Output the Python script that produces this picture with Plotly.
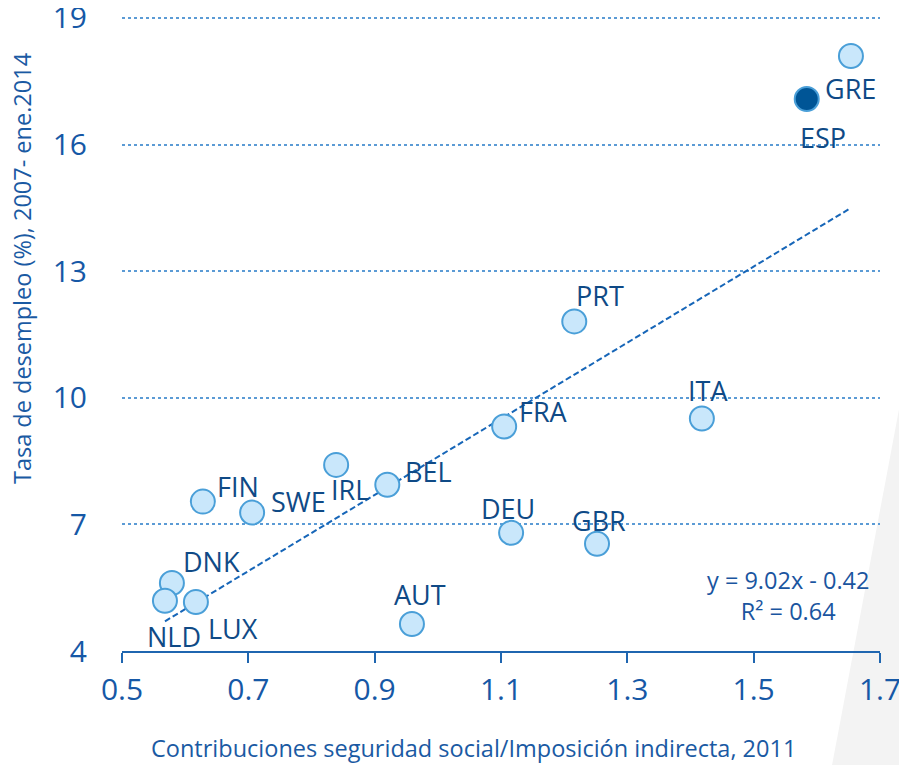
""" Desempleo vs contribuciones seguridad social / imposicion indirecta """

import plotly.graph_objects as go

# datos
paises = ["GRE", "ESP", "PRT", "ITA", "FRA", "BEL", "IRL", "FIN",
          "SWE", "DEU", "GBR", "DNK", "NLD", "LUX", "AUT"]
ratio_ss = [1.654, 1.584, 1.216, 1.418, 1.105, 0.920, 0.839, 0.628,
            0.706, 1.116, 1.252, 0.579, 0.568, 0.617, 0.959]
desempleo = [18.10, 17.08, 11.81, 9.51, 9.32, 7.94, 8.41, 7.54,
             7.28, 6.80, 6.54, 5.61, 5.19, 5.16, 4.64]

pendiente = 9.02
constante = -0.42
r2 = 0.64

x_ticks = [0.5, 0.7, 0.9, 1.1, 1.3, 1.5, 1.7]
y_ticks = [4, 7, 10, 13, 16, 19]

# desplazamiento de etiquetas (px)
offsets = {
    "GRE": (0, -33), "ESP": (16, -38), "PRT": (26, 26), "ITA": (6, 28),
    "FRA": (39, 15), "BEL": (41, 13), "IRL": (14, -25), "FIN": (35, 15),
    "SWE": (46, 11), "DEU": (-3, 24), "GBR": (2, 23), "DNK": (40, 22),
    "NLD": (9, -36), "LUX": (37, -26), "AUT": (8, 29),
}

FONT = "Open Sans"
AZUL_TXT = "#0f4a86"
AZUL_TICK = "#1658a6"

fig = go.Figure()

# linea de tendencia
x_min, x_max = min(ratio_ss), max(ratio_ss)
fig.add_trace(go.Scatter(
    x=[x_min, x_max],
    y=[pendiente * x_min + constante, pendiente * x_max + constante],
    mode="lines",
    line=dict(color="#1766b8", width=2, dash="6px,3px"),
    hoverinfo="skip",
))

colores = ["#005596" if p == "ESP" else "#c9e7fb" for p in paises]
fig.add_trace(go.Scatter(
    x=ratio_ss, y=desempleo, mode="markers",
    marker=dict(size=24, color=colores, line=dict(color="#4a9fd8", width=2)),
    text=paises, hoverinfo="text",
))

for p, xv, yv in zip(paises, ratio_ss, desempleo):
    dx, dy = offsets[p]
    fig.add_annotation(x=xv, y=yv, text=p, showarrow=False,
                       xshift=dx, yshift=dy,
                       xanchor="center", yanchor="middle",
                       font=dict(family=FONT, size=27, color=AZUL_TXT))

# ecuacion
fig.add_annotation(xref="paper", yref="paper", x=0.879, y=0.088,
                   xanchor="center", yanchor="middle",
                   text=f"y = {pendiente:.2f}x - {abs(constante):.2f}<br>R² = {r2:.2f}",
                   showarrow=False, align="center",
                   font=dict(family=FONT, size=23.5, color="#1a55a0"))

# titulos de ejes
fig.add_annotation(xref="paper", yref="paper", x=0.464, y=-0.153,
                   xanchor="center", yanchor="middle",
                   text="Contribuciones seguridad social/Imposición indirecta, 2011",
                   showarrow=False,
                   font=dict(family=FONT, size=23.5, color="#1a5aa3"))
fig.add_annotation(xref="paper", yref="paper", x=-0.132, y=0.603,
                   xanchor="center", yanchor="middle",
                   text="Tasa de desempleo (%), 2007- ene.2014",
                   showarrow=False, textangle=-90,
                   font=dict(family=FONT, size=23.5, color="#1a5aa3"))

# fondo gris decorativo
fig.add_shape(type="path", xref="paper", yref="paper", layer="below",
              path="M 1.0356 0.447 L 1.0356 -0.18 L 0.9367 -0.18 Z",
              fillcolor="#f3f3f3", line=dict(width=0))

fig.update_layout(
    width=899, height=757,
    margin=dict(l=114, r=27, t=8, b=114),
    paper_bgcolor="white", plot_bgcolor="white",
    showlegend=False,
    font=dict(family=FONT),
    xaxis=dict(range=[0.5, 1.7], tickvals=x_ticks,
               ticktext=[f"{v:.1f}" for v in x_ticks],
               showgrid=False, zeroline=False, automargin=False,
               showline=True, linecolor="#1f66b0", linewidth=2,
               ticks="outside", ticklen=10, tickwidth=2, tickcolor="#1f66b0",
               ticklabelstandoff=1, ticklabeloverflow="allow",
               tickfont=dict(family=FONT, size=30, color=AZUL_TICK)),
    yaxis=dict(range=[4, 19.047], tickvals=y_ticks,
               showgrid=True, gridcolor="#5b9bd5", gridwidth=1.5, griddash="dot",
               zeroline=False, showline=False, ticks="", automargin=False,
               ticklabelstandoff=34, ticklabeloverflow="allow",
               tickfont=dict(family=FONT, size=30, color=AZUL_TICK)),
)

fig.write_html("out.html")
